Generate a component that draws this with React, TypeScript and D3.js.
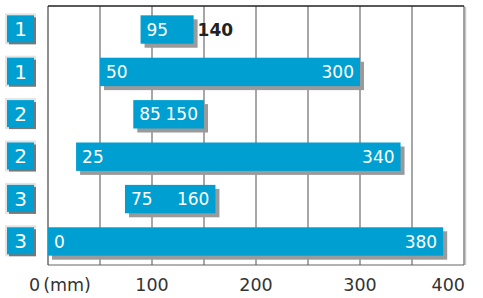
import React from 'react'
import * as d3 from 'd3'

const rowLabels = ['1', '1', '2', '2', '3', '3']
// bar extents as drawn (mm)
const barFrom = [89, 50, 82, 27, 74, 0]
const barTo = [140, 300, 150, 339, 161, 380]
// printed values
const lowLabels = ['95', '50', '85', '25', '75', '0']
const highLabels = ['140', '300', '150', '340', '160', '380']
const gridValues = [50, 100, 150, 200, 250, 300, 350]
const tickValues = [0, 100, 200, 300, 400]

const width = 483
const height = 298
const frame = { left: 48, top: 6, right: 464, bottom: 265 }
const blue = '#009fd1'
const font = '"DejaVu Sans", sans-serif'

export default function App() {
  const x = d3.scaleLinear().domain([0, 400]).range([frame.left, frame.right])
  const y = d3.scaleBand<number>()
    .domain(rowLabels.map((_, i) => i))
    .range([frame.top, frame.bottom])
    .paddingInner(0.33)
    .paddingOuter(0.22)
  const bh = y.bandwidth()

  return (
    <svg width={width} height={height} style={{ position: 'absolute', left: 0, top: 0, display: 'block' }}>
      <rect width={width} height={height} fill="#fff" />

      {/* grid */}
      {gridValues.map((v) => (
        <line key={v} x1={x(v)} x2={x(v)} y1={frame.top} y2={frame.bottom} stroke="#8a8a8a" strokeWidth={1.5} />
      ))}

      {/* frame */}
      <line x1={frame.right + 1.5} x2={frame.right + 1.5} y1={frame.top + 1} y2={frame.bottom} stroke="#c8c8c8" strokeWidth={1.5} />
      <line x1={frame.right} x2={frame.right} y1={frame.top} y2={frame.bottom} stroke="#666" strokeWidth={1.2} />
      <line x1={frame.left} x2={frame.right} y1={frame.bottom} y2={frame.bottom} stroke="#666" strokeWidth={1.2} />
      <line x1={frame.left} x2={frame.left} y1={frame.top} y2={frame.bottom} stroke="#444" strokeWidth={1.2} />
      <line x1={frame.left} x2={frame.right} y1={frame.top} y2={frame.top} stroke="#222" strokeWidth={1.5} />

      {/* bars */}
      {rowLabels.map((_, i) => {
        const top = y(i) as number
        const x0 = x(barFrom[i])
        const x1 = x(barTo[i])
        const narrow = x1 - x0 < 70
        return (
          <g key={i}>
            <rect x={x0 + 4} y={top + 4} width={x1 - x0} height={bh} fill="#9a9a9a" />
            <rect x={x0} y={top} width={x1 - x0} height={bh} fill={blue} />
            <text x={x0 + 6} y={top + bh / 2} dy="0.36em" fill="#fff" fontSize={17} fontFamily={font}>
              {lowLabels[i]}
            </text>
            <text
              x={narrow ? x1 + 4 : x1 - 6}
              y={top + bh / 2}
              dy="0.36em"
              textAnchor={narrow ? 'start' : 'end'}
              fill={narrow ? '#222' : '#fff'}
              fontSize={17}
              fontWeight={narrow ? 600 : 'normal'}
              fontFamily={font}
            >
              {highLabels[i]}
            </text>
          </g>
        )
      })}

      {/* row badges */}
      {rowLabels.map((lab, i) => {
        const top = y(i) as number
        return (
          <g key={'b' + i}>
            <rect x={5} y={top - 2} width={31} height={31} fill="#e4e4e4" />
            <rect x={9} y={top + 2} width={27} height={27} fill="#777" />
            <rect x={7} y={top} width={27} height={27} fill={blue} />
            <text x={20.5} y={top + 13.5} dy="0.37em" textAnchor="middle" fill="#fff" fontSize={20} fontFamily={font}>
              {lab}
            </text>
          </g>
        )
      })}

      {/* x axis labels */}
      {tickValues.map((v, i) => {
        if (i === 0) {
          return (
            <text key={v} x={29} y={291} fill="#333" fontSize={17.5} fontFamily={font}>
              0<tspan dx={3}>(mm)</tspan>
            </text>
          )
        }
        const last = i === tickValues.length - 1
        return (
          <text
            key={v}
            x={last ? x(v) + 1 : x(v)}
            y={291}
            textAnchor={last ? 'end' : 'middle'}
            fill="#333"
            fontSize={17.5}
            fontFamily={font}
          >
            {v}
          </text>
        )
      })}
    </svg>
  )
}
